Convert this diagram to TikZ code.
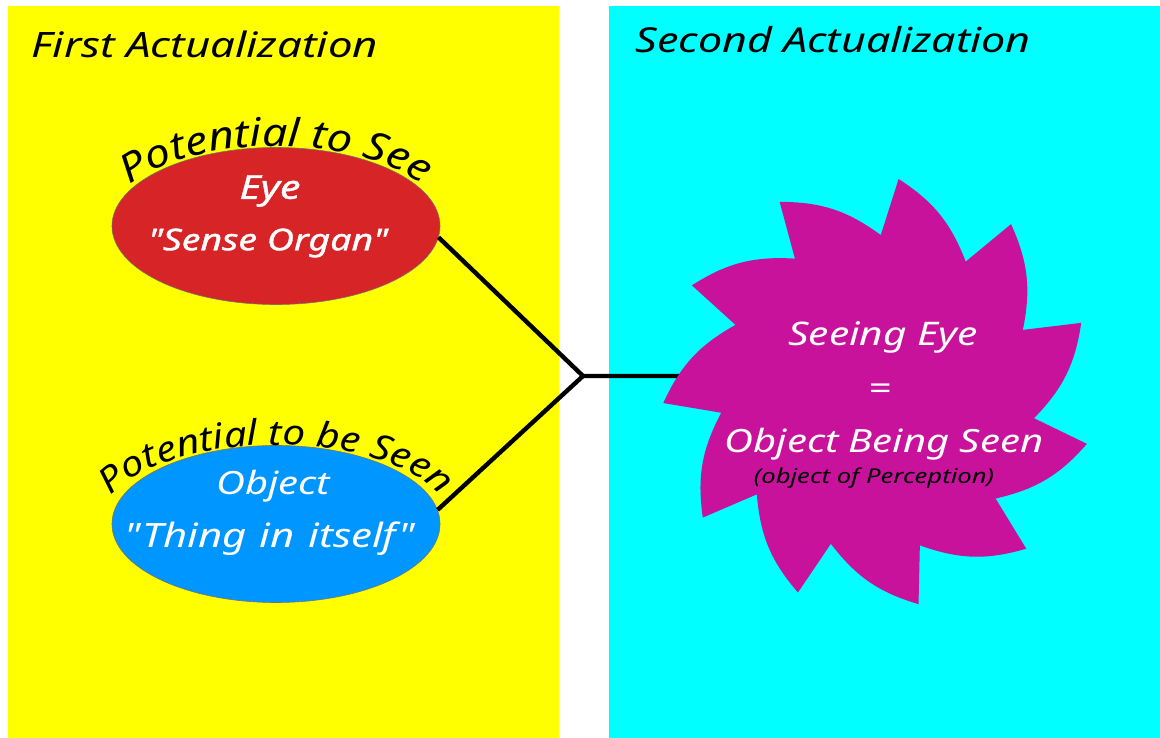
\documentclass[tikz,border=0pt]{standalone}
\usepackage{fontspec}
\newfontfamily\hw{Noto Sans}[FakeStretch=1.25]
\newfontfamily\hwb{Noto Sans}[FakeStretch=1.25, FakeBold=1.2]
\newfontfamily\hwc{Noto Sans}[FakeStretch=1.15]
\usetikzlibrary{shapes.geometric,decorations.text}
\definecolor{panelY}{RGB}{255,255,0}
\definecolor{panelC}{RGB}{0,255,255}
\definecolor{eyeRed}{RGB}{214,36,39}
\definecolor{objBlue}{RGB}{0,150,255}
\definecolor{starMag}{RGB}{200,18,155}
\tikzset{
  hwtext/.style={font=\hw\itshape\fontsize{#1}{#1}\selectfont, inner sep=0pt, anchor=center},
  hwbold/.style={font=\hwb\itshape\fontsize{#1}{#1}\selectfont, inner sep=0pt, anchor=center},
  oval/.style={ellipse, minimum width=328pt, minimum height=157pt, inner sep=0pt, draw=black!55, line width=0.6pt},
  conn/.style={line width=4.4pt, black, line join=miter},
}
\begin{document}
\begin{tikzpicture}[x=1pt,y=-1pt]
\useasboundingbox (0,0) rectangle (1160,738);
\fill[white] (0,0) rectangle (1160,738);
% panels
\fill[panelY] (8,6) rectangle (558.5,738);
\fill[panelC] (609,6) rectangle (1160,738);
\node[hwtext=35] (t1) at (205,44) {First Actualization};
\node[hwtext=34.4] (t2) at (833,40) {Second Actualization};
% ellipses
\node[oval, fill=eyeRed] (red) at (276,226) {};
\node[oval, fill=objBlue] (blue) at (276,524) {};
% connectors
\coordinate (j) at (583,376);
\coordinate (starin) at (695,376);
\draw[conn] (red.-4) -- (j) -- (starin);
\draw[conn] (blue.5) -- (j);
% starburst
\begin{scope}[shift={(878,393)}]
\fill[starMag] (89:158pt)
  \foreach \k in {0,...,10}{
    -- ({84.5-32.727*\k}:215pt) to[bend left=18] ({84.5-32.727*(\k+1)+4.5}:158pt)
  } -- cycle;
\end{scope}
% texts in ellipses
\node[hwbold=33, white] (eye) at (270,191) {Eye};
\node[hwbold=30, white] (organ) at (268,243) {"Sense Organ"};
\node[hwtext=32, white] (obj) at (273,486) {Object};
\node[hwtext=33.5, white] (thing) at (270,539) {\spaceskip=0.4em "Thing in itself"};
% curved labels
\path[decorate, decoration={text along path, text align=center,
  text={|\hwc\itshape\fontsize{39}{39}\selectfont|Potential to See}}]
  ([shift={(276,228)}]175:172pt and 82pt) arc[start angle=175, end angle=5, x radius=172pt, y radius=82pt];
\path[decorate, decoration={text along path, text align=center,
  text={|\hwc\itshape\fontsize{35}{35}\selectfont|Potential to be Seen}}]
  ([shift={(276,526)}]178:178pt and 81pt) arc[start angle=178, end angle=2, x radius=178pt, y radius=81pt];
% star texts
\node[hwtext=32.5, white] (see1) at (883,337) {Seeing Eye};
\node[hwtext=32, white] (eq) at (880,392) {=};
\node[hwtext=32, white] (see2) at (884,444) {Object Being Seen};
\node[hwtext=20.5, black] (perc) at (874,478) {(object of Perception)};
\end{tikzpicture}
\end{document}
